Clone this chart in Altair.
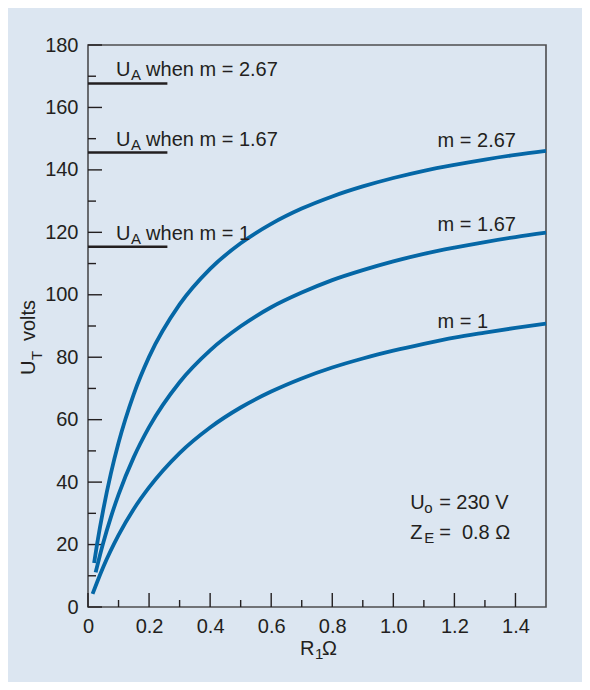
import altair as alt
import pandas as pd

# ---------------- data ----------------
r1_m1 = [0.015, 0.03, 0.05, 0.1, 0.15, 0.2, 0.3, 0.4, 0.5, 0.6, 0.7, 0.8, 0.9, 1.0, 1.1, 1.2, 1.3, 1.4, 1.5]
ut_m1 = [4.2, 8.0, 12.8, 23.0, 31.4, 38.3, 49.3, 57.5, 63.9, 69.0, 73.2, 76.7, 79.6, 82.1, 84.3, 86.3, 87.9, 89.4, 90.8]

r1_m167 = [0.025, 0.05, 0.075, 0.1, 0.15, 0.2, 0.3, 0.4, 0.5, 0.6, 0.7, 0.8, 0.9, 1.0, 1.1, 1.2, 1.3, 1.4, 1.5]
ut_m167 = [11.1, 20.6, 28.8, 36.0, 48.0, 57.6, 72.0, 82.2, 89.9, 96.0, 100.7, 104.7, 107.9, 110.7, 113.1, 115.1, 116.9, 118.5, 119.9]

r1_m267 = [0.02, 0.03, 0.05, 0.075, 0.1, 0.15, 0.2, 0.3, 0.4, 0.5, 0.6, 0.7, 0.8, 0.9, 1.0, 1.1, 1.2, 1.3, 1.4, 1.5]
ut_m267 = [14.1, 20.3, 31.2, 42.8, 52.6, 68.2, 80.1, 96.9, 108.3, 116.5, 122.7, 127.6, 131.5, 134.7, 137.4, 139.7, 141.6, 143.3, 144.8, 146.1]

curve_names = ["m = 1", "m = 1.67", "m = 2.67"]
curve_label_y = [89.5, 120.5, 147.4]
curve_label_x = [1.145, 1.145, 1.145]

ua_m = ["1", "1.67", "2.67"]
ua_values = [115.4, 145.6, 167.7]
ua_line_end = 0.26
ua_label_y = [117.5, 147.8, 170.1]
ua_label_x = 0.092

x_tick_labels = [0, 0.2, 0.4, 0.6, 0.8, 1.0, 1.2, 1.4]
x_minor = [0.1, 0.3, 0.5, 0.7, 0.9, 1.1, 1.3]
y_tick_labels = [0, 20, 40, 60, 80, 100, 120, 140, 160, 180]
y_minor = [10, 30, 50, 70, 90, 110, 130, 150, 170]

note_x = 1.055
note_y = [31.4, 21.8]
note_main = ["U", "Z"]
note_sub = ["o", "E"]
note_rest = ["= 230 V", "=\u00a0\u00a00.8\u00a0Ω"]

# ---------------- styling ----------------
BG = "#dce6f1"
BLUE = "#0567a6"
INK = "#231f20"
FRAME = "#4d4d4f"
FONT = "Liberation Sans"
W, H = 458, 562

xs = alt.Scale(domain=[0, 1.5], nice=False, zero=False)
ys = alt.Scale(domain=[0, 180], nice=False, zero=False)

x_axis = alt.Axis(values=x_tick_labels, title=None, domain=False, grid=False, ticks=False, tickSize=0,
                  labelPadding=9, labelFont=FONT, labelFontSize=20, labelColor=INK, labelFlush=False,
                  labelExpr="datum.value == 0 ? '0' : format(datum.value, '.1f')")
y_axis = alt.Axis(values=y_tick_labels, title=None, domain=False, grid=False, ticks=False, tickSize=0,
                  labelPadding=10, labelFont=FONT, labelFontSize=20, labelColor=INK, labelFlush=False)


def X(field="x"):
    return alt.X(f"{field}:Q", scale=xs, axis=x_axis)


def Y(field="y"):
    return alt.Y(f"{field}:Q", scale=ys, axis=y_axis)


# curves
rows = []
for name, xv, yv in [("1", r1_m1, ut_m1), ("1.67", r1_m167, ut_m167), ("2.67", r1_m267, ut_m267)]:
    for a, b in zip(xv, yv):
        rows.append({"x": a, "y": b, "m": name})
curves_df = pd.DataFrame(rows)

curves = alt.Chart(curves_df).mark_line(color=BLUE, strokeWidth=3.8, interpolate="monotone").encode(
    x=X(), y=Y(), detail="m:N")

# U_A lines
ua_df = pd.DataFrame({"x": [0] * 3, "x2": [ua_line_end] * 3, "y": ua_values, "m": ua_m,
                      "ly": ua_label_y, "lx": [ua_label_x] * 3})
ua_lines = alt.Chart(ua_df).mark_rule(color=INK, strokeWidth=2.5).encode(x=X(), x2="x2:Q", y=Y())


def txt(df, xf, yf, textf, size=20, dx=0, dy=0, align="left"):
    return alt.Chart(df).mark_text(font=FONT, fontSize=size, color=INK, align=align,
                                   baseline="alphabetic", dx=dx, dy=dy).encode(
        x=X(xf), y=Y(yf), text=textf)


ua_df["u"] = "U"
ua_df["sub"] = "A"
ua_df["rest"] = ["when m = " + m for m in ua_m]
ua_u = txt(ua_df, "lx", "ly", "u:N")
ua_s = txt(ua_df, "lx", "ly", "sub:N", size=15, dx=15, dy=4)
ua_r = txt(ua_df, "lx", "ly", "rest:N", dx=30)

# curve labels
cl_df = pd.DataFrame({"x": curve_label_x, "y": curve_label_y, "t": curve_names})
curve_labels = txt(cl_df, "x", "y", "t:N")

# notes
nt_df = pd.DataFrame({"x": [note_x] * 2, "y": note_y, "a": note_main, "b": note_sub, "c": note_rest})
nt_a = txt(nt_df, "x", "y", "a:N")
nt_b = txt(nt_df, "x", "y", "b:N", size=15, dx=14, dy=4)
nt_c = txt(nt_df, "x", "y", "c:N", dx=29)

# inward tick marks
ymaj = alt.Chart(pd.DataFrame({"y": y_tick_labels})).mark_rule(color=INK, strokeWidth=1.4).encode(
    y=Y(), x=alt.value(0), x2=alt.value(14))
ymin = alt.Chart(pd.DataFrame({"y": y_minor})).mark_rule(color=INK, strokeWidth=1.4).encode(
    y=Y(), x=alt.value(0), x2=alt.value(8))
xmaj = alt.Chart(pd.DataFrame({"x": x_tick_labels})).mark_rule(color=INK, strokeWidth=1.4).encode(
    x=X(), y=alt.value(H), y2=alt.value(H - 14))
xmin = alt.Chart(pd.DataFrame({"x": x_minor})).mark_rule(color=INK, strokeWidth=1.4).encode(
    x=X(), y=alt.value(H), y2=alt.value(H - 7))


# axis titles as text pieces (with subscripts)
def ptext(t, x, y, size=20, angle=0):
    return alt.Chart(pd.DataFrame({"t": [t]})).mark_text(
        font=FONT, fontSize=size, color=INK, align="left", baseline="alphabetic", angle=angle).encode(
        x=alt.value(x), y=alt.value(y), text="t:N")


xt = [ptext("R", 212, 610), ptext("1", 227, 614, size=15), ptext("Ω", 234, 610)]
yt = [ptext("U", -53, 330, angle=270), ptext("T", -46, 315, size=15, angle=270),
      ptext("volts", -53, 296, angle=270)]

chart = alt.layer(
    ymaj, ymin, xmaj, xmin, ua_lines, curves, ua_u, ua_s, ua_r, curve_labels, nt_a, nt_b, nt_c, *xt, *yt
).properties(
    width=W, height=H,
    padding={"left": 80, "top": 37, "right": 36, "bottom": 75},
    autosize=alt.AutoSizeParams(type="none"),
    background=BG,
).configure_view(stroke=FRAME, strokeWidth=1.6)

chart.save("out.html", embed_options={"renderer": "svg", "actions": False})
